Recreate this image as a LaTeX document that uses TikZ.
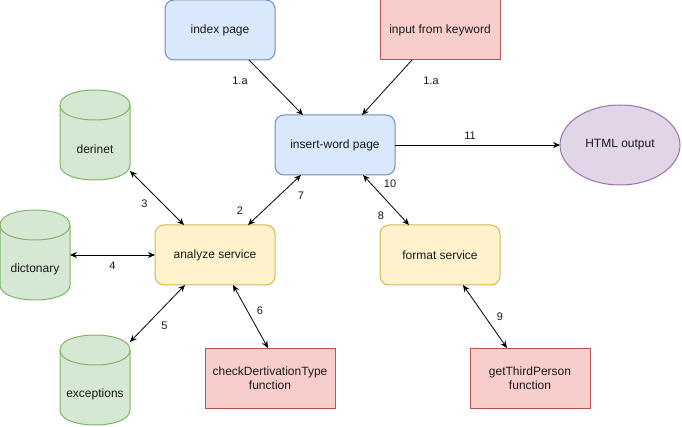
\documentclass[tikz,border=0pt]{standalone}
\usepackage{fontspec}
\setmainfont{Liberation Sans}
\usetikzlibrary{arrows.meta,backgrounds,shapes.geometric}

\definecolor{blueFill}{HTML}{DAE8FC}
\definecolor{blueLine}{HTML}{6C8EBF}
\definecolor{redFill}{HTML}{F8CECC}
\definecolor{redLine}{HTML}{B85450}
\definecolor{yellowFill}{HTML}{FFF2CC}
\definecolor{yellowLine}{HTML}{D6B656}
\definecolor{greenFill}{HTML}{D5E8D4}
\definecolor{greenLine}{HTML}{82B366}
\definecolor{purpleFill}{HTML}{E1D5E7}
\definecolor{purpleLine}{HTML}{9673A6}
\definecolor{inkGray}{HTML}{1A1A1A}

\tikzset{
    box/.style={rectangle, draw, line width=1pt, minimum width=120pt, minimum height=60pt,
        inner sep=0pt, outer sep=0pt, align=center, text=inkGray, font=\fontsize{12}{14}\selectfont},
    page/.style={box, rounded corners=9pt, fill=blueFill, draw=blueLine},
    service/.style={box, rounded corners=9pt, fill=yellowFill, draw=yellowLine},
    func/.style={box, fill=redFill, draw=redLine},
    output/.style={box, ellipse, minimum width=120pt, minimum height=80pt, fill=purpleFill, draw=purpleLine},
    dbnode/.style={rectangle, minimum width=70pt, minimum height=90pt, inner sep=0pt, outer sep=0pt},
    dblabel/.style={yshift=-14pt, text=inkGray, font=\fontsize{12}{14}\selectfont},
    dbshape/.style={line width=1pt, draw=greenLine, fill=greenFill},
    link/.style={line width=0.8pt, -{Stealth[length=7pt,width=6pt]}},
    twoway/.style={line width=0.8pt, {Stealth[length=7pt,width=6pt]}-{Stealth[length=7pt,width=6pt]}},
    lbl/.style={text=inkGray, font=\fontsize{11}{13}\selectfont, inner sep=0pt}
}

% cylinder outline drawn round a dbnode
\newcommand{\cylpath}[1]{%
    \filldraw[dbshape] ([yshift=-15pt]#1.north west)
        .. controls ([yshift=5pt]#1.north west) and ([yshift=5pt]#1.north east) .. ([yshift=-15pt]#1.north east)
        -- ([yshift=15pt]#1.south east)
        .. controls ([yshift=-5pt]#1.south east) and ([yshift=-5pt]#1.south west) .. ([yshift=15pt]#1.south west)
        -- cycle;
    \draw[dbshape, fill=none] ([yshift=-15pt]#1.north west)
        .. controls ([yshift=-35pt]#1.north west) and ([yshift=-35pt]#1.north east) .. ([yshift=-15pt]#1.north east);
}

\begin{document}
\begin{tikzpicture}[x=1pt, y=-1pt]
    \useasboundingbox (0,0) rectangle (682,427);

    % pages and input
    \node[page, minimum width=110pt] (index) at (220,30) {index page};
    \node[func] (keyword) at (440,30) {input from keyword};
    \node[page] (insert) at (335,145) {insert-word page};
    \node[output] (html) at (620,145) {HTML output};

    % services and functions
    \node[service] (analyze) at (215,255) {analyze service};
    \node[service] (format) at (440,255) {format service};
    \node[func, minimum width=130pt] (check) at (270,378) {checkDertivationType\\function};
    \node[func] (third) at (530,378) {getThirdPerson\\function};

    % databases
    \node[dbnode, label={[dblabel]center:derinet}] (derinet) at (95,135) {};
    \node[dbnode, label={[dblabel]center:dictonary}] (dict) at (35,255) {};
    \node[dbnode, label={[dblabel]center:exceptions}] (except) at (95,380) {};
    \begin{scope}[on background layer]
        \cylpath{derinet}
        \cylpath{dict}
        \cylpath{except}
    \end{scope}

    % connectors
    \draw[link] ([xshift=29pt]index.south) -- node[lbl, xshift=-36pt, yshift=6.5pt] {1.a} ([xshift=-32pt]insert.north);
    \draw[link] ([xshift=-28pt]keyword.south) -- node[lbl, xshift=44pt, yshift=6.5pt] {1.a} ([xshift=27pt]insert.north);
    \draw[link] (insert.east) -- node[lbl, xshift=-7.5pt, yshift=9pt] {11} (html.west);
    \draw[twoway] ([yshift=9pt]derinet.south east) -- node[lbl, xshift=-12.5pt, yshift=-6pt] {3} ([xshift=-31pt]analyze.north);
    \draw[twoway] ([xshift=33pt]analyze.north) -- node[lbl, xshift=-34.5pt, yshift=-11pt] {2}
        node[lbl, xshift=26.5pt, yshift=4pt] {7} ([xshift=-34pt]insert.south);
    \draw[twoway] ([xshift=28pt]insert.south) -- node[lbl, xshift=4pt, yshift=16pt] {10}
        node[lbl, xshift=-5pt, yshift=-16pt] {8} ([xshift=-31pt]format.north);
    \draw[twoway] (dict.east) -- node[lbl, yshift=-11pt] {4} (analyze.west);
    \draw[twoway] ([xshift=-30pt]analyze.south) -- node[lbl, xshift=7pt, yshift=-12.5pt] {5} ([yshift=-7pt]except.north east);
    \draw[twoway] ([xshift=18pt]analyze.south) -- node[lbl, xshift=9.5pt, yshift=5.5pt] {6} ([xshift=-2pt]check.north);
    \draw[twoway] ([xshift=23pt]format.south) -- node[lbl, xshift=15pt, yshift=-0.5pt] {9} ([xshift=-23pt]third.north);
\end{tikzpicture}
\end{document}
